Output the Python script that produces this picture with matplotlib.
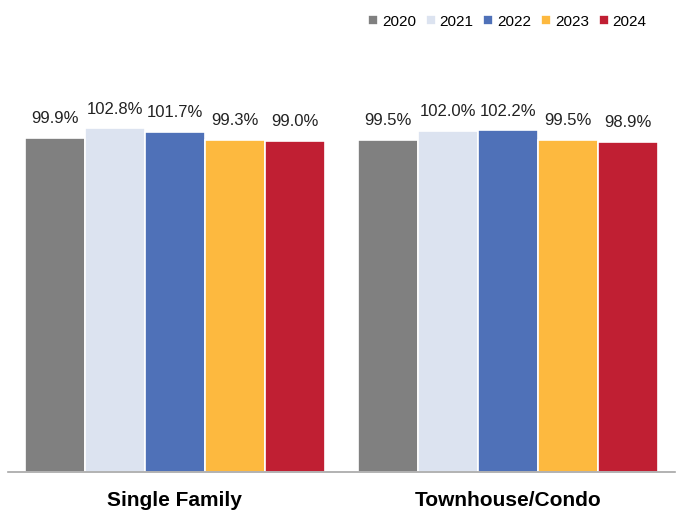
import matplotlib.pyplot as plt
import numpy as np

categories = ["Single Family", "Townhouse/Condo"]
years = ["2020", "2021", "2022", "2023", "2024"]
values = {
    "2020": [99.9, 99.5],
    "2021": [102.8, 102.0],
    "2022": [101.7, 102.2],
    "2023": [99.3, 99.5],
    "2024": [99.0, 98.9],
}
colors = ["#808080", "#DCE3F0", "#4F71B8", "#FDB93F", "#C01F33"]

plt.rcParams["font.family"] = ["Liberation Sans", "DejaVu Sans"]

fig = plt.figure(figsize=(6.81, 5.12), dpi=100)
ax = fig.add_axes([8 / 681, 40 / 512, 667 / 681, 401 / 512])

x = np.arange(len(categories))
width = 0.18
for i, yr in enumerate(years):
    pos = x + (i - 2) * width
    bars = ax.bar(pos, values[yr], width, color=colors[i], edgecolor="white",
                  linewidth=1.2, label=yr)
    for b, v in zip(bars, values[yr]):
        ax.text(b.get_x() + b.get_width() / 2, v + 5.8, f"{v:.1f}%",
                ha="center", va="center", fontsize=12, color="#222222")

ax.set_xlim(-0.5, 1.5)
ax.set_ylim(0, 120)
ax.set_yticks([])
ax.set_xticks(x)
ax.set_xticklabels(categories, fontsize=15, fontweight="bold")
ax.tick_params(axis="x", length=0, pad=14)
for s in ["top", "right", "left"]:
    ax.spines[s].set_visible(False)
ax.spines["bottom"].set_color("#A6A6A6")
ax.spines["bottom"].set_linewidth(1.2)

ax.legend(loc="upper right", bbox_to_anchor=(661 / 681, 1.0), bbox_transform=fig.transFigure,
          ncol=5, frameon=False, fontsize=11, handlelength=0.65, handleheight=0.65,
          handletextpad=0.25, columnspacing=0.65, borderaxespad=0.6, borderpad=0.35)

fig.savefig("out.png", dpi=100)
